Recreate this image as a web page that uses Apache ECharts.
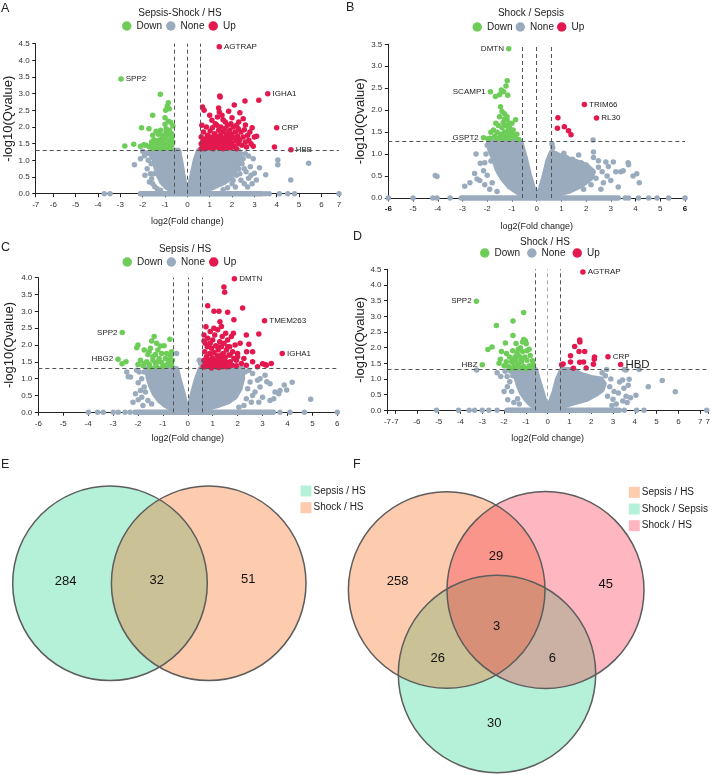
<!DOCTYPE html>
<html>
<head>
<meta charset="utf-8">
<script src="https://cdn.jsdelivr.net/npm/echarts@6/dist/echarts.min.js"></script>
<style>
html, body { margin: 0; padding: 0; background: #fff; }
#chart { width: 713px; height: 775px; }
</style>
</head>
<body>
<div id="chart"></div>
<script>
// ---- data ----
const thresholdX = [-0.585, 0, 0.585]
const thresholdY = 1.3

// A: Sepsis-Shock / HS
const aTicks = [-6.79, -6, -5, -4, -3, -2, -1, 0, 1, 2, 3, 4, 5, 6, 6.79]
const aGenes = [['SPP2', -2.97, 3.44], ['AGTRAP', 1.43, 4.41], ['IGHA1', 3.6, 3.0], ['CRP', 4.0, 1.98], ['HBB', 4.64, 1.32]]
const aDown = [[-1.21, 2.98], [-0.85, 2.73], [-0.81, 2.55], [-0.97, 2.5], [-0.9, 2.62], [-1.55, 2.35], [-1.0, 2.28], [-0.85, 2.17],
  [-0.75, 2.14], [-0.65, 2.03], [-2.05, 1.98], [-1.72, 1.95], [-1.0, 2.08], [-1.4, 1.87], [-1.55, 1.75], [-1.2, 1.9], [-0.95, 1.85],
  [-0.8, 1.9], [-1.3, 1.78], [-1.1, 1.75], [-0.9, 1.75], [-0.7, 1.8], [-2.8, 1.43], [-2.4, 1.48], [-2.1, 1.42], [-1.95, 1.47],
  [-1.85, 1.45], [-1.6, 1.55], [-1.7, 1.4], [-1.5, 1.62], [-1.4, 1.5], [-1.3, 1.6], [-1.2, 1.45], [-1.1, 1.55], [-1.0, 1.65],
  [-0.9, 1.5], [-0.8, 1.6], [-0.7, 1.45], [-0.65, 1.55], [-1.55, 1.35], [-1.35, 1.38], [-1.15, 1.35], [-0.95, 1.38], [-0.75, 1.35],
  [-1.05, 1.45], [-0.85, 1.42], [-1.25, 1.52], [-1.45, 1.42], [-0.7, 1.68], [-0.95, 1.95], [-1.15, 1.65], [-0.78, 1.5], [-1.6, 1.45]]
const aUp = [[0.68, 2.6], [0.75, 2.5], [1.0, 2.35], [1.4, 2.57], [1.43, 2.45], [1.55, 2.35], [1.85, 2.47], [2.1, 2.66], [2.35, 2.43],
  [2.58, 2.78], [3.2, 2.8], [1.45, 2.93], [1.47, 2.9], [2.5, 2.25], [2.3, 2.15], [1.35, 2.3], [1.6, 2.22], [1.1, 2.2], [2.0, 2.28],
  [2.6, 2.06], [2.9, 1.98], [3.0, 1.7], [2.95, 1.42], [3.9, 1.4], [2.75, 1.6], [2.8, 1.85], [3.1, 1.72],
  [0.62, 1.35], [0.62, 1.5], [0.62, 1.7], [0.65, 2.05], [0.7, 1.42], [0.7, 1.58], [0.72, 1.85], [0.78, 1.35], [0.8, 1.5], [0.82, 1.65],
  [0.85, 1.4], [0.88, 1.55], [0.9, 1.75], [0.92, 1.45], [0.95, 1.62], [0.98, 1.38], [1.0, 1.5], [1.02, 1.88], [1.05, 1.7], [1.08, 1.42],
  [1.1, 1.55], [1.12, 1.98], [1.15, 1.35], [1.18, 1.65], [1.2, 1.48], [1.22, 1.8], [1.25, 1.4], [1.28, 1.58], [1.3, 1.72], [1.32, 2.05],
  [1.35, 1.45], [1.38, 1.62], [1.4, 1.9], [1.42, 1.38], [1.45, 1.52], [1.48, 1.75], [1.5, 2.0], [1.52, 1.42], [1.55, 1.6], [1.58, 1.85],
  [1.6, 1.35], [1.62, 1.5], [1.65, 1.68], [1.68, 1.95], [1.7, 1.45], [1.72, 1.6], [1.75, 1.8], [1.78, 1.38], [1.8, 2.05], [1.82, 1.55],
  [1.85, 1.7], [1.88, 1.45], [1.9, 1.9], [1.92, 1.62], [1.95, 1.38], [1.98, 1.78], [2.0, 1.52], [2.05, 2.0], [2.08, 1.68], [2.1, 1.42],
  [2.15, 1.85], [2.18, 1.58], [2.2, 1.35], [2.25, 1.72], [2.28, 1.95], [2.3, 1.5], [2.35, 1.62], [2.4, 1.85], [2.45, 1.45], [2.5, 1.7],
  [2.55, 1.92], [2.6, 1.55], [2.65, 1.4], [2.7, 1.75], [2.85, 1.5], [2.2, 2.05], [1.95, 2.1], [1.7, 2.15], [1.25, 2.1], [0.85, 2.0],
  [1.05, 1.45], [1.15, 1.52], [0.95, 1.48], [1.25, 1.5], [1.35, 1.55], [0.75, 1.45], [1.55, 1.45], [1.05, 1.6], [0.9, 1.4], [1.45, 1.65]]
const aNone = [[-2.37, 0.87], [-2.0, 1.27], [-1.92, 1.14], [-2.1, 1.05], [-1.85, 1.22], [-1.7, 1.2], [-1.75, 1.0], [-1.62, 0.9],
  [-1.8, 0.75], [-1.65, 0.6], [-1.6, 0.45], [-1.7, 0.35], [-1.55, 0.3], [-1.46, 0.21], [-1.35, 0.15], [-1.9, 0.55], [-1.5, 0.6],
  [-1.58, 1.1], [-1.2, 0.1], [2.74, 1.13], [2.6, 1.2], [2.5, 1.05], [2.45, 0.9], [2.82, 0.81], [2.63, 0.66], [2.74, 0.46], [3.0, 0.61],
  [3.09, 0.41], [3.23, 0.78], [3.51, 0.57], [4.05, 1.01], [4.05, 0.87], [4.63, 0.41], [5.43, 0.91], [2.3, 0.75], [2.2, 0.55], [2.4, 0.4],
  [2.55, 0.3], [2.0, 0.3], [2.15, 0.2], [1.8, 0.18], [2.9, 0.3], [2.35, 0.6], [2.55, 0.75], [2.95, 1.05], [2.4, 1.2], [2.05, 0.4],
  [2.7, 0.2], [1.6, 0.12], [2.85, 0.55], [2.2, 0.95], [0.5, 1.2], [-0.38, 1.25],
  [-3.72, 0], [-3.46, 0], [3.5, 0], [3.66, 0], [4.12, 0], [4.5, 0], [4.8, 0], [6.79, 0]]
const aCore = [[-1.55, 1.3], [-1.5, 1.05], [-1.42, 0.8], [-1.3, 0.55], [-1.15, 0.35], [-0.95, 0.2], [-0.7, 0.1], [-0.4, 0.03], [0, 0],
  [0.4, 0.03], [0.8, 0.1], [1.2, 0.2], [1.6, 0.32], [1.9, 0.45], [2.1, 0.62], [2.25, 0.85], [2.35, 1.1], [2.3, 1.3], [0.5, 1.3],
  [0.35, 1.0], [0.22, 0.6], [0.1, 0.25], [0, 0.1], [-0.1, 0.25], [-0.2, 0.6], [-0.3, 1.0], [-0.4, 1.3]]
const aZero = [-2.1, 3.35]

// B: Shock / Sepsis
const bTicks = [-6, -5, -4, -3, -2, -1, 0, 1, 2, 3, 4, 5, 6]
const bGenes = [['DMTN', -1.13, 3.4], ['SCAMP1', -1.87, 2.42], ['GSPT2', -2.15, 1.37], ['TRIM66', 1.93, 2.13], ['RL30', 2.42, 1.82]]
const bDown = [[-1.19, 2.67], [-1.24, 2.55], [-1.43, 2.46], [-1.33, 2.42], [-1.67, 2.31], [-1.5, 2.35], [-1.17, 2.34], [-1.46, 2.08],
  [-1.4, 1.97], [-1.89, 1.36], [-1.97, 1.35], [-1.5, 1.85], [-1.3, 1.8], [-1.2, 1.78], [-1.0, 1.7], [-0.85, 1.78], [-1.65, 1.7],
  [-1.55, 1.65], [-1.75, 1.55], [-1.4, 1.6], [-1.25, 1.65], [-1.1, 1.6], [-1.6, 1.5], [-1.45, 1.45], [-1.3, 1.5], [-1.15, 1.45],
  [-1.0, 1.5], [-1.7, 1.4], [-1.5, 1.38], [-1.35, 1.35], [-1.2, 1.38], [-1.05, 1.35], [-0.9, 1.4], [-0.73, 1.33], [-1.35, 1.72],
  [-1.05, 1.42], [-1.25, 1.42], [-1.6, 1.35], [-0.95, 1.55], [-1.15, 1.55], [-1.4, 1.4], [-1.85, 1.5], [-1.1, 1.7], [-1.3, 1.92],
  [-1.2, 1.85], [-0.8, 1.45]]
const bUp = [[0.86, 1.83], [0.84, 1.59], [1.12, 1.62], [1.29, 1.53], [1.39, 1.44]]
const bNone = [[-2.28, 0.79], [-2.51, 0.56], [-2.41, 0.43], [-2.3, 0.4], [-2.0, 0.52], [-1.8, 0.35], [-2.91, 0.27], [-4.1, 0.51],
  [-4.03, 0.49], [-1.85, 0.84], [-2.05, 1.0], [-2.7, 0.35], [-2.15, 0.62], [-2.1, 0.3], [-1.9, 0.2], [-1.6, 0.15], [-2.45, 1.0],
  [-2.0, 1.2], [-2.1, 0.8],
  [0.62, 1.23], [0.65, 1.15], [0.75, 1.0], [0.85, 0.9], [1.1, 1.02], [1.2, 0.92], [1.45, 0.88], [1.7, 0.98], [1.8, 0.8], [2.0, 0.75],
  [2.3, 0.92], [2.28, 1.32], [2.3, 1.05], [2.5, 0.7], [2.5, 0.85], [2.65, 0.6], [2.8, 0.82], [2.9, 0.72], [3.1, 0.82], [3.2, 0.6],
  [3.4, 0.6], [3.5, 0.62], [3.7, 0.8], [3.72, 0.76], [4.05, 0.55], [4.15, 0.35], [3.0, 0.4], [2.7, 0.35], [2.4, 0.45], [2.2, 0.3],
  [2.6, 0.2], [3.3, 0.25], [3.9, 0.5], [1.3, 0.7], [1.6, 0.6], [1.0, 0.8], [0.9, 0.6], [1.9, 0.2], [2.85, 0.5], [2.15, 0.62],
  [-6, 0], [-5.0, 0], [-4.2, 0], [-4.03, 0], [-3.5, 0], [3.58, 0], [3.72, 0], [4.12, 0], [4.53, 0], [4.87, 0], [5.34, 0], [6.0, 0]]
const bCore = [[-1.95, 1.3], [-1.9, 1.1], [-1.75, 0.9], [-1.6, 0.65], [-1.4, 0.45], [-1.1, 0.25], [-0.7, 0.1], [-0.3, 0.03], [0, 0],
  [0.3, 0.03], [0.8, 0.08], [1.3, 0.15], [1.8, 0.28], [2.2, 0.45], [2.3, 0.6], [2.0, 0.75], [1.5, 0.85], [1.0, 0.95], [0.6, 1.05],
  [0.45, 0.85], [0.3, 0.5], [0.15, 0.2], [0, 0.08], [-0.15, 0.25], [-0.3, 0.55], [-0.45, 0.9], [-0.6, 1.2], [-0.65, 1.3]]
const bZero = [-3.05, 3.3]

// C: Sepsis / HS
const cTicks = [-6, -5, -4, -3, -2, -1, 0, 1, 2, 3, 4, 5, 6]
const cGenes = [['SPP2', -2.63, 2.37], ['HBG2', -2.8, 1.58], ['DMTN', 1.87, 3.97], ['TMEM263', 3.08, 2.72], ['IGHA1', 3.79, 1.75]]
const cDown = [[-2.48, 1.5], [-2.64, 1.44], [-2.0, 2.0], [-2.05, 1.92], [-1.35, 2.25], [-1.45, 2.12], [-0.72, 2.17], [-1.25, 2.05],
  [-1.1, 1.97], [-0.95, 1.98], [-1.2, 1.85], [-1.5, 1.9], [-1.75, 1.85], [-0.65, 1.8], [-0.7, 1.68], [-1.05, 1.75], [-1.3, 1.72],
  [-1.6, 1.72], [-0.9, 1.6], [-1.15, 1.6], [-1.4, 1.55], [-1.65, 1.5], [-1.9, 1.55], [-2.0, 1.42], [-1.8, 1.38], [-1.55, 1.42],
  [-1.3, 1.45], [-1.05, 1.48], [-0.8, 1.45], [-0.65, 1.4], [-0.75, 1.55], [-1.0, 1.35], [-1.25, 1.35], [-1.5, 1.33], [-1.75, 1.45],
  [-0.9, 1.38], [-1.4, 1.65], [-0.62, 1.55], [-1.2, 1.5], [-0.85, 1.75], [-1.55, 1.8]]
const cUp = [[1.45, 3.72], [1.48, 3.57], [0.8, 3.17], [1.05, 3.0], [1.25, 3.0], [1.6, 2.97], [2.2, 3.1], [1.85, 2.75], [2.35, 2.3],
  [2.45, 2.02], [2.85, 2.33], [2.6, 1.8], [3.0, 1.44], [3.1, 1.42], [3.35, 1.45], [3.15, 1.4], [2.36, 1.8], [2.1, 2.05], [2.0, 1.75],
  [2.25, 1.6], [2.35, 1.4], [2.6, 1.5], [2.8, 1.35], [1.29, 2.69], [0.73, 2.54], [0.65, 2.3], [1.83, 2.35], [2.15, 1.45], [1.95, 1.55],
  [0.62, 1.35], [0.65, 1.55], [0.68, 1.8], [0.7, 2.05], [0.72, 1.45], [0.75, 1.65], [0.78, 1.95], [0.8, 2.2], [0.82, 1.38], [0.85, 1.55],
  [0.88, 1.75], [0.9, 2.4], [0.92, 1.48], [0.95, 1.9], [0.98, 1.62], [1.0, 2.15], [1.02, 1.4], [1.05, 1.78], [1.08, 2.3], [1.1, 1.52],
  [1.12, 1.98], [1.15, 1.35], [1.18, 1.68], [1.2, 2.45], [1.22, 1.85], [1.25, 1.45], [1.28, 2.1], [1.3, 1.6], [1.32, 1.38], [1.35, 1.95],
  [1.38, 2.25], [1.4, 1.5], [1.42, 1.75], [1.45, 2.05], [1.48, 1.4], [1.5, 1.62], [1.52, 2.35], [1.55, 1.85], [1.58, 1.48], [1.6, 2.15],
  [1.62, 1.35], [1.65, 1.7], [1.68, 1.95], [1.7, 1.5], [1.75, 2.25], [1.78, 1.4], [1.8, 1.8], [1.85, 1.6], [1.9, 2.0], [1.95, 1.38],
  [2.0, 1.65], [0.7, 1.35], [0.95, 1.32], [1.1, 1.42], [1.25, 1.33], [1.4, 1.35], [0.85, 1.45], [1.0, 1.58], [1.15, 1.55], [0.75, 1.5],
  [1.35, 1.7], [1.55, 1.35], [0.9, 2.05], [1.2, 1.95], [1.05, 2.5], [1.6, 1.95], [1.35, 2.55], [0.65, 2.12], [1.45, 1.55], [1.7, 1.7]]
const cNone = [[-2.45, 1.2], [-2.39, 1.06], [-2.3, 1.05], [-1.99, 0.88], [-1.85, 0.45], [-1.99, 0.37], [-0.45, 1.75], [-1.95, 1.2],
  [-1.85, 1.0], [-1.75, 0.75], [-1.7, 0.6], [-1.9, 0.65], [-2.1, 0.55], [-1.6, 0.35], [-1.45, 0.25], [-1.8, 0.2], [-2.2, 0.3],
  [-1.75, 1.2], [-2.05, 1.25], [0.46, 1.55], [0.52, 1.45], [3.97, 0.66], [4.19, 0.89], [3.87, 0.81], [4.93, 0.39], [3.17, 0.91],
  [2.8, 0.95], [2.6, 1.15], [2.5, 0.9], [2.45, 1.25], [2.7, 0.6], [2.9, 0.75], [3.0, 0.45], [3.3, 0.35], [3.5, 0.6], [3.65, 0.55],
  [2.35, 0.4], [2.55, 0.3], [2.25, 0.2], [2.4, 0.7], [2.6, 0.5], [3.1, 1.1], [2.3, 1.2], [2.9, 1.0], [3.7, 0.65], [3.3, 0.85],
  [2.85, 0.3], [3.45, 0.4], [2.05, 0.15],
  [-3.99, 0], [-3.62, 0], [-3.39, 0], [-2.99, 0], [-2.79, 0], [-2.52, 0], [-2.32, 0], [3.7, 0], [4.1, 0], [4.68, 0], [6.0, 0]]
const cCore = [[-1.65, 1.3], [-1.6, 1.05], [-1.5, 0.8], [-1.35, 0.55], [-1.15, 0.35], [-0.9, 0.2], [-0.6, 0.08], [-0.3, 0.02], [0, 0],
  [0.3, 0.03], [0.7, 0.1], [1.2, 0.2], [1.6, 0.3], [1.9, 0.45], [2.1, 0.7], [2.2, 1.0], [2.2, 1.3], [0.5, 1.3], [0.35, 1.0],
  [0.2, 0.6], [0.1, 0.3], [0, 0.12], [-0.1, 0.3], [-0.2, 0.6], [-0.35, 1.0], [-0.45, 1.3]]
const cZero = [-2.12, 3.43]

// D: Shock / HS
const dTicks = [-7.35, -7, -6, -5, -4, -3, -2, -1, 0, 1, 2, 3, 4, 5, 6, 7, 7.35]
const dGenes = [['SPP2', -3.27, 3.48], ['HBZ', -3.0, 1.45], ['AGTRAP', 1.62, 4.41], ['CRP', 2.77, 1.71], ['HBD', 3.35, 1.46]]
const dDown = [[-1.1, 3.12], [-1.59, 2.85], [-2.35, 2.71], [-1.59, 2.39], [-1.1, 2.26], [-1.02, 2.22], [-1.15, 2.18], [-0.98, 2.12],
  [-1.94, 2.15], [-1.45, 2.13], [-2.74, 1.94], [-2.55, 2.02], [-2.12, 1.88], [-1.89, 1.81], [-2.17, 1.63], [-2.23, 1.5], [-1.25, 2.0],
  [-1.35, 1.95], [-1.6, 1.9], [-1.4, 1.82], [-1.15, 1.88], [-0.95, 1.9], [-0.85, 1.95], [-1.75, 1.7], [-1.5, 1.7], [-1.3, 1.72],
  [-1.05, 1.7], [-0.8, 1.75], [-1.9, 1.55], [-1.65, 1.55], [-1.45, 1.58], [-1.2, 1.55], [-0.95, 1.6], [-0.7, 1.58], [-2.0, 1.42],
  [-1.8, 1.4], [-1.55, 1.42], [-1.35, 1.45], [-1.1, 1.4], [-0.85, 1.42], [-0.65, 1.45], [-1.7, 1.33], [-1.45, 1.35], [-1.25, 1.35],
  [-1.0, 1.33], [-0.75, 1.35], [-1.2, 1.62], [-1.6, 1.62]]
const dUp = [[1.05, 1.74], [1.24, 2.04], [1.47, 2.24], [1.48, 2.18], [1.44, 1.88], [1.7, 1.88], [1.05, 1.54], [1.47, 1.53], [1.65, 1.54],
  [0.71, 1.48], [0.64, 1.45], [1.18, 1.34], [1.77, 1.35], [2.1, 1.47], [2.14, 1.63], [2.15, 1.7]]
const dNone = [[-3.26, 1.29], [-2.32, 1.2], [-2.15, 1.08], [-1.95, 1.25], [-1.86, 1.08], [-1.74, 0.91], [-1.83, 0.34], [-1.38, 0.37],
  [-1.65, 0.6], [-1.85, 0.75], [-1.6, 1.1], [-1.7, 1.25], [-1.55, 0.25], [-1.3, 0.2], [-2.0, 0.6],
  [2.71, 1.3], [3.52, 1.3], [3.6, 1.29], [4.2, 1.3], [4.62, 0.75], [5.26, 0.95], [5.86, 0.59], [4.05, 0.48], [3.44, 0.97], [3.74, 0.99],
  [3.7, 0.8], [3.3, 0.9], [3.6, 0.45], [3.45, 0.3], [3.05, 0.6], [2.85, 0.75], [2.9, 1.0], [3.0, 0.35], [3.15, 0.2], [2.75, 0.45],
  [2.65, 1.1], [3.5, 0.7], [3.8, 0.4], [2.5, 1.2], [3.25, 0.55], [3.65, 0.25], [2.95, 0.15],
  [-5.1, 0], [-4.09, 0], [-3.6, 0], [-3.35, 0], [-3.0, 0], [-2.7, 0], [-2.32, 0], [3.52, 0], [4.08, 0], [4.42, 0], [7.3, 0]]
const dCore = [[-1.5, 1.3], [-1.45, 1.05], [-1.35, 0.8], [-1.2, 0.55], [-1.0, 0.35], [-0.8, 0.2], [-0.5, 0.08], [-0.2, 0.02], [0, 0],
  [0.3, 0.05], [0.8, 0.15], [1.3, 0.25], [1.8, 0.35], [2.2, 0.5], [2.5, 0.65], [2.6, 0.85], [2.45, 1.0], [2.0, 1.05], [1.5, 1.15],
  [1.2, 1.3], [0.65, 1.3], [0.45, 1.0], [0.3, 0.6], [0.15, 0.3], [0, 0.1], [-0.15, 0.35], [-0.3, 0.7], [-0.45, 1.05], [-0.55, 1.3]]
const dZero = [-1.86, 3.29]

// Venn counts
const vennENames = ['Sepsis / HS', 'Shock / HS']
const vennECounts = [284, 32, 51]          // only Sepsis, both, only Shock
const vennFNames = ['Sepsis / HS', 'Shock / Sepsis', 'Shock / HS']
const vennFCounts = [258, 29, 45, 3, 26, 6, 30] // S only, S&H, H only, all, S&Sp, Sp&H, Sp only

// ---- styling ----
const FONT = '"Liberation Sans",Arial,sans-serif'
const GRAY = '#9aabbe'
const GREEN = '#6dcd58'
const RED = '#e3184f'

const panels = [
  { letter: 'A', lx: 1, ly: 2, title: 'Sepsis-Shock / HS', tx: 180, ty: 8, legendX: 122, legendY: 21, gap: 4,
    grid: { left: 35.7, top: 43.7, width: 303.3, height: 150 }, xMin: -6.79, xMax: 6.79, yMax: 4.5, ticks: aTicks,
    down: aDown, up: aUp, none: aNone, core: aCore, zero: aZero, genes: aGenes, left: [], big: [], xGap: 23, yGap: 19 },
  { letter: 'B', lx: 346, ly: 1, title: 'Shock / Sepsis', tx: 531, ty: 8.5, legendX: 472.5, legendY: 22, gap: 3,
    grid: { left: 388.3, top: 44.3, width: 296.7, height: 153.7 }, xMin: -6, xMax: 6, yMax: 3.5, ticks: bTicks, bold: true,
    down: bDown, up: bUp, none: bNone, core: bCore, zero: bZero, genes: bGenes, left: ['DMTN', 'SCAMP1', 'GSPT2'], big: [], xGap: 24, yGap: 21 },
  { letter: 'C', lx: 1, ly: 241.5, title: 'Sepsis / HS', tx: 185, ty: 244, legendX: 122.5, legendY: 257, gap: 4,
    grid: { left: 38.3, top: 277.7, width: 299, height: 134.6 }, xMin: -6, xMax: 6, yMax: 4, ticks: cTicks,
    down: cDown, up: cUp, none: cNone, core: cCore, zero: cZero, genes: cGenes, left: ['SPP2', 'HBG2'], big: [], xGap: 22, yGap: 22 },
  { letter: 'D', lx: 353, ly: 230.5, title: 'Shock / HS', tx: 545, ty: 237, legendX: 480, legendY: 248, gap: 7,
    grid: { left: 387.5, top: 269.3, width: 323.5, height: 141 }, xMin: -7.35, xMax: 7.35, yMax: 4.5, ticks: dTicks, lightZero: true,
    down: dDown, up: dUp, none: dNone, core: dCore, zero: dZero, genes: dGenes, left: ['SPP2', 'HBZ'], big: ['HBD'], xGap: 24, yGap: 19 }
]

function geneItems(p, sign) {
  return p.genes.filter(g => sign < 0 ? g[1] < 0 : g[1] > 0).map(g => ({
    value: [g[1], g[2]],
    label: {
      show: true, formatter: g[0], position: p.left.includes(g[0]) ? 'left' : 'right', distance: 2,
      fontSize: p.big.includes(g[0]) ? 11.5 : 8, color: '#222', fontFamily: FONT
    }
  }))
}

const grids = [], xAxes = [], yAxes = [], series = [], legends = [], titles = []

panels.forEach((p, i) => {
  grids.push(Object.assign({ containLabel: false }, p.grid))
  xAxes.push({
    gridIndex: i, type: 'value', min: p.xMin, max: p.xMax,
    axisLine: { onZero: false, lineStyle: { color: '#222', width: 1 } },
    axisTick: { length: 3.5, customValues: p.ticks, lineStyle: { color: '#222' } },
    axisLabel: {
      customValues: p.ticks, fontSize: 8, color: '#333', margin: 7, fontFamily: FONT, hideOverlap: false,
      formatter: v => {
        const t = String(Math.round(v))
        return p.bold && Math.abs(v) === 6 ? '{b|' + t + '}' : t
      },
      rich: { b: { fontWeight: 'bold', fontSize: 8, fontFamily: FONT, color: '#111' } }
    },
    splitLine: { show: false },
    name: 'log2(Fold change)', nameLocation: 'middle', nameGap: p.xGap,
    nameTextStyle: { fontSize: 9, color: '#222', fontFamily: FONT }
  })
  yAxes.push({
    gridIndex: i, type: 'value', min: 0, max: p.yMax, interval: 0.5,
    axisLine: { show: true, onZero: false, lineStyle: { color: '#222', width: 1 } },
    axisTick: { show: true, length: 3.5, lineStyle: { color: '#222' } },
    axisLabel: { fontSize: 8, color: '#333', margin: 6, fontFamily: FONT, formatter: v => v.toFixed(1) },
    splitLine: { show: false },
    name: '-log10(Qvalue)', nameLocation: 'middle', nameGap: p.yGap,
    nameTextStyle: { fontSize: 13, color: '#222', fontFamily: FONT }
  })
  series.push({
    type: 'custom', xAxisIndex: i, yAxisIndex: i, data: [[0, 0]], silent: true, z: 1, animation: false,
    renderItem: (params, api) => {
      const pts = p.core.map(c => api.coord(c))
      const z0 = api.coord([p.zero[0], 0]), z1 = api.coord([p.zero[1], 0])
      return {
        type: 'group', children: [
          { type: 'polygon', shape: { points: pts }, style: { fill: GRAY, stroke: GRAY, lineWidth: 5, lineJoin: 'round' } },
          { type: 'line', shape: { x1: z0[0], y1: z0[1], x2: z1[0], y2: z1[1] }, style: { stroke: GRAY, lineWidth: 5.5, lineCap: 'round' } }
        ]
      }
    }
  })
  series.push({
    type: 'scatter', name: 'None', xAxisIndex: i, yAxisIndex: i, data: p.none, symbolSize: 5.5,
    itemStyle: { color: GRAY, opacity: 1 }, z: 2, animation: false,
    markLine: {
      silent: true, symbol: 'none', animation: false, label: { show: false },
      lineStyle: { type: [4, 3], color: '#555', width: 1 },
      data: thresholdX.map(x => x === 0 && p.lightZero ? { xAxis: x, lineStyle: { color: '#aaa' } } : { xAxis: x })
        .concat([{ yAxis: thresholdY }])
    }
  })
  series.push({
    type: 'scatter', name: 'Down', xAxisIndex: i, yAxisIndex: i, data: p.down.concat(geneItems(p, -1)), symbolSize: 5.5,
    itemStyle: { color: GREEN, opacity: 1 }, z: 3, animation: false
  })
  series.push({
    type: 'scatter', name: 'Up', xAxisIndex: i, yAxisIndex: i, data: p.up.concat(geneItems(p, 1)), symbolSize: 5.5,
    itemStyle: { color: RED, opacity: 1 }, z: 4, animation: false
  })
  legends.push({
    data: ['Down', 'None', 'Up'], left: p.legendX, top: p.legendY, padding: 0, icon: 'circle', itemWidth: 9.5, itemHeight: 9.5,
    itemGap: p.gap, itemTextGap: 4, selectedMode: false, textStyle: { fontSize: 10, color: '#222', fontFamily: FONT }
  })
  titles.push({ text: p.letter, left: p.lx, top: p.ly, padding: 0, textStyle: { fontSize: 12.5, fontWeight: 'normal', color: '#222', fontFamily: FONT } })
  titles.push({ text: p.title, left: p.tx, top: p.ty, padding: 0, textAlign: 'center', textStyle: { fontSize: 10, fontWeight: 'normal', color: '#222', fontFamily: FONT } })
})
titles.push({ text: 'E', left: 1, top: 458.5, padding: 0, textStyle: { fontSize: 12.5, fontWeight: 'normal', color: '#222', fontFamily: FONT } })
titles.push({ text: 'F', left: 353, top: 458.5, padding: 0, textStyle: { fontSize: 12.5, fontWeight: 'normal', color: '#222', fontFamily: FONT } })

// ---- Venn geometry (convex clipping of sampled circles) ----
function circlePts(c) {
  const pts = []
  for (let k = 0; k < 240; k++) {
    const t = 2 * Math.PI * k / 240
    pts.push([c.x + c.r * Math.cos(t), c.y + c.r * Math.sin(t)])
  }
  return pts
}
function cross(a, b, p) { return (b[0] - a[0]) * (p[1] - a[1]) - (b[1] - a[1]) * (p[0] - a[0]) }
function meet(p, q, a, b) {
  const d1 = cross(a, b, p), d2 = cross(a, b, q), t = d1 / (d1 - d2)
  return [p[0] + (q[0] - p[0]) * t, p[1] + (q[1] - p[1]) * t]
}
function clip(subject, clipper) {
  let out = subject
  for (let k = 0; k < clipper.length; k++) {
    const a = clipper[k], b = clipper[(k + 1) % clipper.length]
    const inp = out
    out = []
    for (let j = 0; j < inp.length; j++) {
      const p = inp[j], q = inp[(j + 1) % inp.length]
      const pin = cross(a, b, p) >= 0, qin = cross(a, b, q) >= 0
      if (pin) { out.push(p); if (!qin) out.push(meet(p, q, a, b)) } else if (qin) out.push(meet(p, q, a, b))
    }
  }
  return out
}

const MINT = '#b5f0d8', PEACH = '#fdcbae', PINK = '#feb6c0'
const vE = [{ x: 110, y: 583.3, r: 97.3, fill: MINT }, { x: 208.7, y: 583.3, r: 97.3, fill: PEACH }]
const vF = [{ x: 446.7, y: 590, r: 98.3, fill: PEACH }, { x: 497, y: 674, r: 98.7, fill: MINT }, { x: 545.5, y: 590, r: 98.5, fill: PINK }]
const ePos = [[65.7, 581], [156.7, 580], [248.3, 579.3]]
const fPos = [[397.7, 581.7], [496, 556.7], [605.7, 584], [496.7, 626], [437.7, 658], [552.3, 658], [494.3, 723.3]]

const g = []
function poly(points, fill) { g.push({ type: 'polygon', shape: { points }, style: { fill }, silent: true }) }
function ring(c) { g.push({ type: 'circle', shape: { cx: c.x, cy: c.y, r: c.r }, style: { fill: 'none', stroke: '#5d5d5d', lineWidth: 1.5 }, silent: true }) }
function txt(s, pos, size) {
  g.push({ type: 'text', x: pos[0], y: pos[1], silent: true,
    style: { text: String(s), fill: '#111', font: size + 'px ' + FONT, align: 'center', verticalAlign: 'middle' } })
}

const pE = vE.map(circlePts)
vE.forEach((c, k) => poly(pE[k], c.fill))
poly(clip(pE[0], pE[1]), '#cbc196')
vE.forEach(ring)
vennECounts.forEach((n, k) => txt(n, ePos[k], 13))

const pF = vF.map(circlePts)
vF.forEach((c, k) => poly(pF[k], c.fill))
poly(clip(pF[0], pF[2]), '#f9958a')
poly(clip(pF[0], pF[1]), '#cbc196')
poly(clip(pF[1], pF[2]), '#cbb0a4')
poly(clip(clip(pF[0], pF[1]), pF[2]), '#d88f78')
vF.forEach(ring)
vennFCounts.forEach((n, k) => txt(n, fPos[k], 13))

function key(x, y, color, label) {
  g.push({ type: 'rect', shape: { x: x - 5.5, y: y - 5.5, width: 11, height: 11 }, style: { fill: color }, silent: true })
  g.push({ type: 'text', x: x + 7.5, y: y, silent: true,
    style: { text: label, fill: '#222', font: '10px ' + FONT, verticalAlign: 'middle' } })
}
vennENames.forEach((n, k) => key(306, 491 + k * 16.7, [MINT, PEACH][k], n))
vennFNames.forEach((n, k) => key(634.3, 492.3 + k * 16.7, [PEACH, MINT, PINK][k], n))

const chart = echarts.init(document.getElementById('chart'), null, { renderer: 'canvas' })
chart.setOption({
  backgroundColor: '#fff',
  animation: false,
  title: titles,
  legend: legends,
  grid: grids,
  xAxis: xAxes,
  yAxis: yAxes,
  series: series,
  graphic: { elements: g }
})
</script>
</body>
</html>
